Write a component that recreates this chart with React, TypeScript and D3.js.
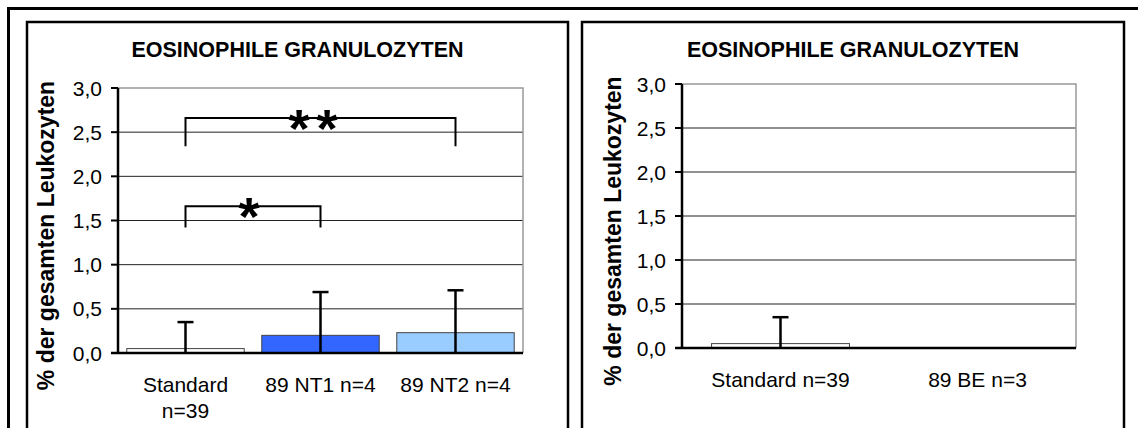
import * as d3 from "d3"

// values
const chartTitle = "EOSINOPHILE GRANULOZYTEN"
const yAxisTitle = "% der gesamten Leukozyten"
const yTicks = [0, 0.5, 1, 1.5, 2, 2.5, 3]

const leftCategories = ["Standard n=39", "89 NT1 n=4", "89 NT2 n=4"]
const leftMeans = [0.05, 0.2, 0.23]
const leftSD = [0.3, 0.49, 0.48]
const leftColors = ["#FFFFFF", "#3366FF", "#99CCFF"]
const leftBrackets = [
	{ from: 0, to: 1, top: 1.66, bottom: 1.42, label: "*" },
	{ from: 0, to: 2, top: 2.66, bottom: 2.34, label: "**" },
]

const rightCategories = ["Standard n=39", "89 BE n=3"]
const rightMeans = [0.05, 0]
const rightSD = [0.3, 0]
const rightColors = ["#FFFFFF", "#99CCFF"]

const font = "'Liberation Sans', Arial, sans-serif"

type Bracket = { from: number; to: number; top: number; bottom: number; label: string }

type PanelProps = {
	frame: [number, number]
	plotX: [number, number]
	plotY: [number, number]
	yLabelX: number
	padInner: number
	padOuter: number
	categories: string[]
	means: number[]
	sd: number[]
	colors: string[]
	brackets: Bracket[]
}

function Panel({ frame, plotX, plotY, yLabelX, padInner, padOuter, categories, means, sd, colors, brackets }: PanelProps) {
	const x = d3.scaleBand<string>()
		.domain(categories)
		.range(plotX)
		.paddingInner(padInner)
		.paddingOuter(padOuter)
	const y = d3.scaleLinear().domain([0, 3]).range([plotY[1], plotY[0]])
	const cx = (i: number) => (x(categories[i]) as number) + x.bandwidth() / 2
	const fmt = (v: number) => v.toFixed(1).replace(".", ",")
	// rough wrap: break long labels when they would not fit into one step
	const maxChars = Math.floor(x.step() / 11)
	const lines = (s: string) => {
		if (s.length <= maxChars) return [s]
		const i = s.lastIndexOf(" ")
		return [s.slice(0, i), s.slice(i + 1)]
	}

	return (
		<g fontFamily={font}>
			{/* panel frame */}
			<rect x={frame[0]} y={22} width={frame[1] - frame[0]} height={500} fill="#fff" stroke="#000" strokeWidth={2.5} />

			<text x={(frame[0] + frame[1]) / 2} y={57} textAnchor="middle" fontSize={21.5} fontWeight="bold">{chartTitle}</text>

			<text transform={`translate(${yLabelX},${(plotY[0] + plotY[1]) / 2 + 15}) rotate(-90)`} textAnchor="middle"
				dy="0.35em" fontSize={23} fontWeight="bold">{yAxisTitle}</text>

			{/* grid */}
			{yTicks.slice(1, -1).map(t => (
				<line key={t} x1={plotX[0]} x2={plotX[1]} y1={y(t)} y2={y(t)} stroke="#222" strokeWidth={1} />
			))}
			<path d={`M${plotX[0]},${y(3)}H${plotX[1]}V${y(0)}`} fill="none" stroke="#999" strokeWidth={1.5} />

			{/* bars */}
			{categories.map((c, i) => means[i] > 0 && (
				<rect key={c} x={x(c)} y={y(means[i])} width={x.bandwidth()} height={y(0) - y(means[i])}
					fill={colors[i]} stroke="#444" strokeWidth={1} />
			))}

			{/* error bars */}
			{categories.map((c, i) => sd[i] > 0 && (
				<g key={c} stroke="#000" strokeWidth={2.5}>
					<line x1={cx(i)} x2={cx(i)} y1={y(Math.max(0, means[i] - sd[i]))} y2={y(means[i] + sd[i])} />
					<line x1={cx(i) - 8} x2={cx(i) + 8} y1={y(means[i] + sd[i])} y2={y(means[i] + sd[i])} />
				</g>
			))}

			{/* axes */}
			<line x1={plotX[0]} x2={plotX[0]} y1={y(3)} y2={y(0)} stroke="#000" strokeWidth={2.5} />
			<line x1={plotX[0] - 7} x2={plotX[1]} y1={y(0)} y2={y(0)} stroke="#000" strokeWidth={2.5} />
			{yTicks.map(t => (
				<g key={t}>
					<line x1={plotX[0] - 7} x2={plotX[0]} y1={y(t)} y2={y(t)} stroke="#000" strokeWidth={2} />
					<text x={plotX[0] - 16} y={y(t)} dy="0.36em" textAnchor="end" fontSize={21}>{fmt(t)}</text>
				</g>
			))}

			{categories.map((c, i) => (
				<text key={c} x={cx(i)} y={y(0) + 39} textAnchor="middle" fontSize={21}>
					{lines(c).map((l, j) => (
						<tspan key={j} x={cx(i)} dy={j === 0 ? 0 : 26}>{l}</tspan>
					))}
				</text>
			))}

			{/* significance brackets */}
			{brackets.map(b => (
				<g key={b.label}>
					<path d={`M${cx(b.from)},${y(b.bottom)}V${y(b.top)}H${cx(b.to)}V${y(b.bottom)}`}
						fill="none" stroke="#000" strokeWidth={2} />
					<text x={(cx(b.from) + cx(b.to)) / 2 - 4} y={y(b.top) + 29} textAnchor="middle"
						fontSize={54} fontWeight="bold" letterSpacing={b.label.length > 1 ? 7 : 0}>{b.label}</text>
				</g>
			))}
		</g>
	)
}

export default function App() {
	return (
		<svg width={1138} height={428} style={{ position: "absolute", left: 0, top: 0, background: "#fff" }}>
			<rect x={8.5} y={8.5} width={1200} height={500} fill="#fff" stroke="#000" strokeWidth={3} />
			<Panel frame={[27, 568]} plotX={[118, 523]} plotY={[88, 353]} yLabelX={46}
				padInner={0.13} padOuter={0.065}
				categories={leftCategories} means={leftMeans} sd={leftSD} colors={leftColors} brackets={leftBrackets} />
			<Panel frame={[582, 1124]} plotX={[682, 1076]} plotY={[84, 348]} yLabelX={613}
				padInner={0.3} padOuter={0.15}
				categories={rightCategories} means={rightMeans} sd={rightSD} colors={rightColors} brackets={[]} />
		</svg>
	)
}
